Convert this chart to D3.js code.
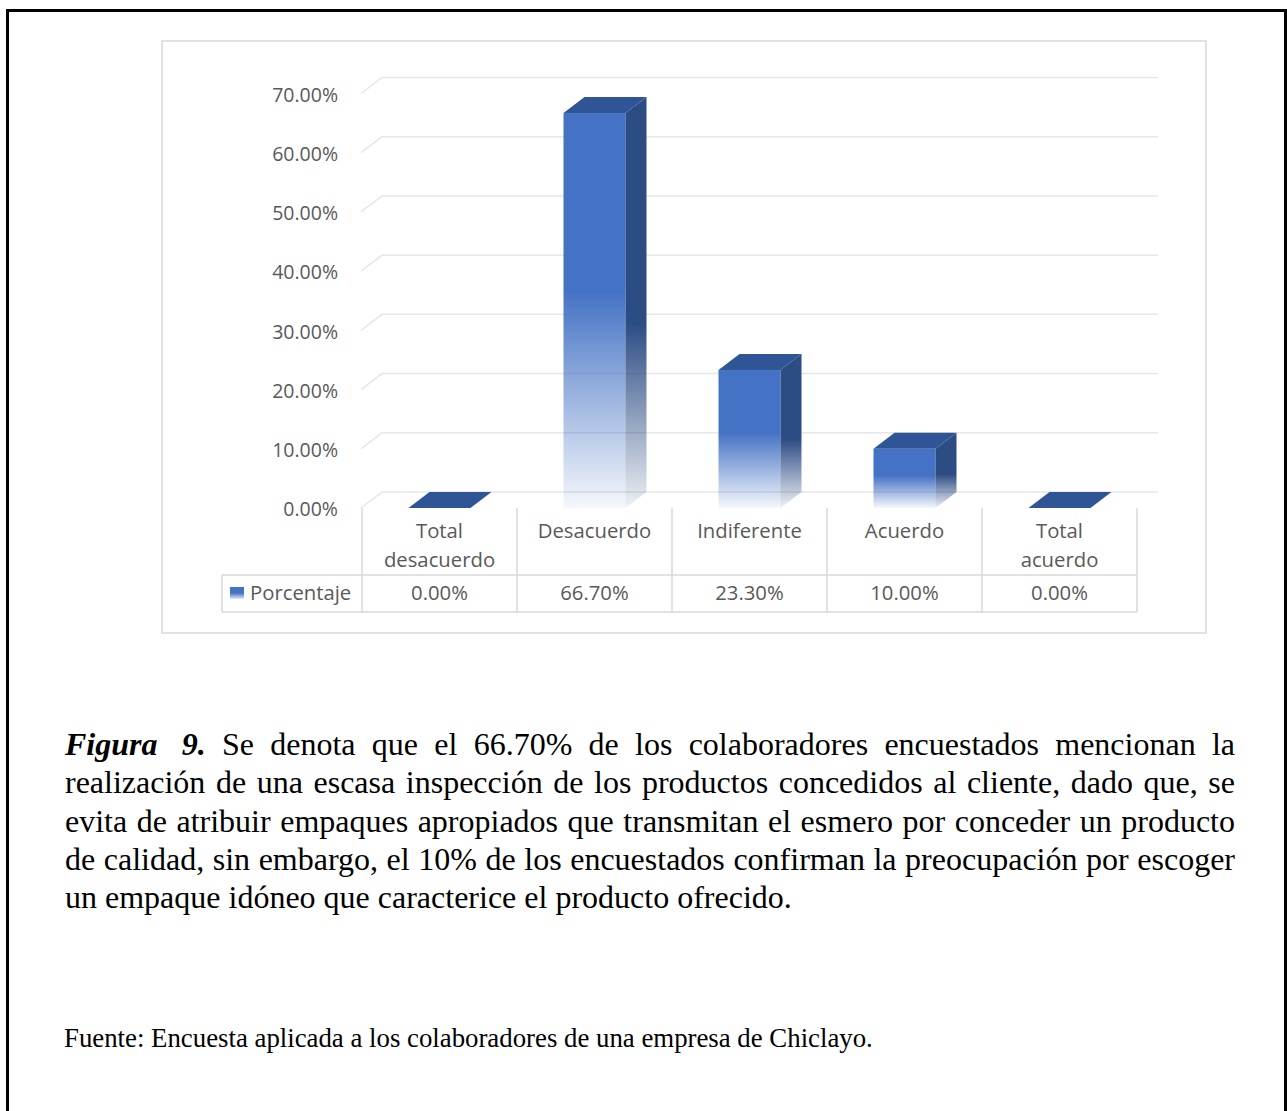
<!DOCTYPE html>
<html>
<head>
<meta charset="utf-8">
<script src="https://cdn.jsdelivr.net/npm/d3@7"></script>
<style>
  body { margin: 0; background: #fff; }
</style>
</head>
<body>
<div id="chart"></div>
<script>
// chart data
const categories = ["Total desacuerdo", "Desacuerdo", "Indiferente", "Acuerdo", "Total acuerdo"];
const porcentaje = [0.0, 0.667, 0.233, 0.10, 0.0];
const yTicks = [0, 0.1, 0.2, 0.3, 0.4, 0.5, 0.6, 0.7];
const seriesName = "Porcentaje";

// caption text
const captionLead = ["Figura\u00a0", "9."];
const captionLines = [
  "Se denota que el 66.70% de los colaboradores encuestados mencionan la",
  "realización de una escasa inspección de los productos concedidos al cliente, dado que, se",
  "evita de atribuir empaques apropiados que transmitan el esmero por conceder un producto",
  "de calidad, sin embargo, el 10% de los encuestados confirman la preocupación por escoger",
  "un empaque idóneo que caracterice el producto ofrecido."
];
const fuente = "Fuente: Encuesta aplicada a los colaboradores de una empresa de Chiclayo.";

const W = 1287, H = 1111;
const labelFont = "'Open Sans', sans-serif";
const grey = "#595959";
const lineCol = "#d9d9d9";

const svg = d3.select("#chart").append("svg")
  .attr("width", W)
  .attr("height", H);

// page frame
svg.append("rect")
  .attr("x", 7.5).attr("y", 10.5)
  .attr("width", 1278).attr("height", 1200)
  .attr("fill", "none").attr("stroke", "#000").attr("stroke-width", 3);

// chart area frame
svg.append("rect")
  .attr("x", 162).attr("y", 41)
  .attr("width", 1044).attr("height", 592)
  .attr("fill", "#fff").attr("stroke", lineCol).attr("stroke-width", 1.5);

// gradients
const defs = svg.append("defs");
function grad(id, color, solidTo, endOp) {
  const g = defs.append("linearGradient").attr("id", id)
    .attr("x1", 0).attr("y1", 0).attr("x2", 0).attr("y2", 1);
  [[0, 1], [solidTo, 1], [1, endOp]].forEach(s => {
    g.append("stop").attr("offset", s[0]).attr("stop-color", color).attr("stop-opacity", s[1]);
  });
}
grad("front", "#4472C4", 0.45, 0.05);
grad("side", "#2C4C84", 0.55, 0.08);
grad("legend", "#4472C4", 0.5, 0.15);

// scales
const y = d3.scaleLinear().domain([0, 0.7]).range([508, 93.5]);
const x = d3.scaleBand().domain(categories).range([362, 1137]);
const barW = x.bandwidth() * 0.4;
const dx = 21, dy = -16;

// gridlines (floor edge + back wall)
svg.append("g").selectAll("path")
  .data(yTicks)
  .join("path")
    .attr("d", t => `M361,${y(t)} L${361 + dx},${y(t) + dy} H1158`)
    .attr("fill", "none")
    .attr("stroke", "#e6e6e6")
    .attr("stroke-width", 1.5);

// y labels
svg.append("g").selectAll("text")
  .data(yTicks)
  .join("text")
    .attr("x", 338)
    .attr("y", t => y(t) + 1.5)
    .attr("dy", "0.35em")
    .attr("text-anchor", "end")
    .attr("font-family", labelFont)
    .attr("font-size", 19.5)
    .attr("fill", grey)
    .text(d3.format(".2%"));

// 3d bars
const bars = svg.append("g").selectAll("g")
  .data(categories.map((c, i) => ({c, v: porcentaje[i]})))
  .join("g");

bars.each(function(d) {
  const g = d3.select(this);
  const x0 = x(d.c) + (x.bandwidth() - barW) / 2;
  const x1 = x0 + barW;
  const yt = y(d.v), yb = y(0);
  if (yb - yt > 0.5) {
    g.append("rect")
      .attr("x", x0).attr("y", yt)
      .attr("width", barW).attr("height", yb - yt)
      .attr("fill", "url(#front)");
    g.append("path")
      .attr("d", `M${x1},${yt} L${x1 + dx},${yt + dy} L${x1 + dx},${yb + dy} L${x1},${yb} Z`)
      .attr("fill", "url(#side)");
  }
  g.append("path")
    .attr("d", `M${x0},${yt} L${x0 + dx},${yt + dy} L${x1 + dx},${yt + dy} L${x1},${yt} Z`)
    .attr("fill", "#2F5597");
});

// data table
const table = svg.append("g")
  .attr("stroke", lineCol).attr("stroke-width", 1.5).attr("fill", "none");
const bounds = categories.map(c => x(c)).concat([x.range()[1]]);
table.selectAll("line.v")
  .data(bounds)
  .join("line")
    .attr("x1", d => d).attr("x2", d => d)
    .attr("y1", 508).attr("y2", 612);
[575, 612].forEach(yy => {
  table.append("line").attr("x1", 222).attr("x2", 1137).attr("y1", yy).attr("y2", yy);
});
table.append("line").attr("x1", 222).attr("x2", 222).attr("y1", 575).attr("y2", 612);

// category labels
svg.append("g").selectAll("text")
  .data(categories)
  .join("text")
    .attr("x", c => x(c) + x.bandwidth() / 2)
    .attr("text-anchor", "middle")
    .attr("font-family", labelFont)
    .attr("font-size", 20.3)
    .attr("fill", grey)
    .each(function(c) {
      const lines = c.startsWith("Total ") ? ["Total", c.slice(6)] : [c];
      d3.select(this).selectAll("tspan")
        .data(lines)
        .join("tspan")
          .attr("x", x(c) + x.bandwidth() / 2)
          .attr("y", (l, i) => 538 + i * 29)
          .text(l => l);
    });

// value row
svg.append("g").selectAll("text")
  .data(porcentaje)
  .join("text")
    .attr("x", (v, i) => x(categories[i]) + x.bandwidth() / 2)
    .attr("y", 600)
    .attr("text-anchor", "middle")
    .attr("font-family", labelFont)
    .attr("font-size", 20.3)
    .attr("fill", grey)
    .text(d3.format(".2%"));

// legend key
svg.append("rect")
  .attr("x", 230).attr("y", 587)
  .attr("width", 14).attr("height", 12)
  .attr("fill", "url(#legend)");
svg.append("text")
  .attr("x", 250).attr("y", 600)
  .attr("font-family", labelFont)
  .attr("font-size", 20.3)
  .attr("fill", grey)
  .text(seriesName);

// caption, justified word by word
const capX0 = 65, capX1 = 1235, capY0 = 755, capStep = 38.3;
const cap = svg.append("g")
  .attr("font-family", "'Liberation Serif', 'Times New Roman', serif")
  .attr("font-size", 32)
  .attr("fill", "#000");

captionLines.forEach((line, li) => {
  const yy = capY0 + li * capStep;
  let words = line.split(" ").map(t => ({t, b: false}));
  if (li === 0) words = captionLead.map(t => ({t, b: true})).concat(words);
  if (li === captionLines.length - 1) {
    cap.append("text").attr("x", capX0).attr("y", yy).text(line);
    return;
  }
  const nodes = words.map(w => cap.append("text")
    .attr("y", yy)
    .attr("font-weight", w.b ? "bold" : null)
    .attr("font-style", w.b ? "italic" : null)
    .text(w.t));
  const widths = nodes.map(n => n.node().getComputedTextLength());
  const gap = (capX1 - capX0 - d3.sum(widths)) / (nodes.length - 1);
  let cx = capX0;
  nodes.forEach((n, i) => {
    n.attr("x", cx);
    cx += widths[i] + gap;
  });
});

svg.append("text")
  .attr("x", 64).attr("y", 1047)
  .attr("font-family", "'Liberation Serif', 'Times New Roman', serif")
  .attr("font-size", 26.8)
  .attr("fill", "#000")
  .text(fuente);
</script>
</body>
</html>
